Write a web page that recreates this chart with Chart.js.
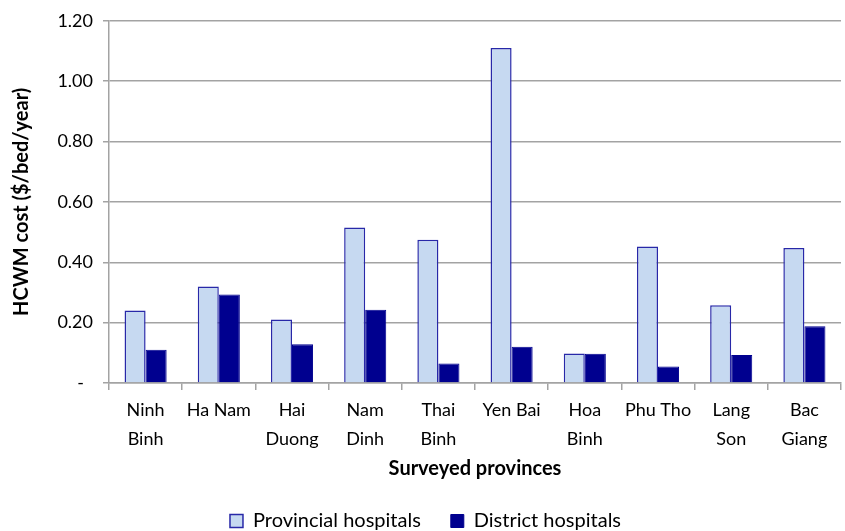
<!DOCTYPE html>
<html>
<head>
<meta charset="utf-8">
<script src="https://cdn.jsdelivr.net/npm/chart.js@4/dist/chart.umd.min.js"></script>
<style>
  html, body { margin: 0; padding: 0; background: #ffffff; }
  #wrap { width: 845px; height: 531px; }
</style>
</head>
<body>
<div id="wrap"><canvas id="chart" width="845" height="531"></canvas></div>
<script>
// Surveyed provinces (two-line labels as drawn under the axis)
const provinces = [
  ["Ninh", "Binh"], "Ha Nam", ["Hai", "Duong"], ["Nam", "Dinh"], ["Thai", "Binh"],
  "Yen Bai", ["Hoa", "Binh"], "Phu Tho", ["Lang", "Son"], ["Bac", "Giang"]
];

// HCWM cost ($/bed/year)
const provincialHospitals = [0.24, 0.32, 0.21, 0.515, 0.475, 1.11, 0.098, 0.452, 0.258, 0.447];
const districtHospitals   = [0.11, 0.293, 0.128, 0.243, 0.065, 0.12, 0.097, 0.055, 0.093, 0.188];

// Y axis tick values
const yTicks = [0, 0.2, 0.4, 0.6, 0.8, 1.0, 1.2];

const FONT = "Lato, 'Open Sans', 'Liberation Sans', sans-serif";
const gridGray = "#a3a3a3";

new Chart(document.getElementById("chart"), {
  type: "bar",
  data: {
    labels: provinces,
    datasets: [
      {
        label: "Provincial hospitals",
        data: provincialHospitals,
        backgroundColor: "#c6d9f1",
        borderColor: "#2828a8",
        borderWidth: 1.5,
        borderSkipped: "bottom"
      },
      {
        label: "District hospitals",
        data: districtHospitals,
        backgroundColor: "#00008f",
        borderColor: "#00008f",
        borderWidth: 1,
        borderSkipped: "bottom"
      }
    ]
  },
  options: {
    responsive: false,
    animation: false,
    devicePixelRatio: 1,
    layout: { padding: { top: 14, right: 4, left: 10, bottom: -10 } },
    datasets: { bar: { categoryPercentage: 0.575, barPercentage: 1.0 } },
    plugins: {
      tooltip: { enabled: false },
      legend: {
        position: "bottom",
        labels: {
          color: "#000000",
          font: { family: FONT, size: 20 },
          boxWidth: 13,
          boxHeight: 13,
          padding: 30,
          useBorderRadius: false
        }
      }
    },
    scales: {
      x: {
        grid: {
          display: true,
          drawOnChartArea: false,
          drawTicks: true,
          tickLength: 7,
          color: gridGray,
          lineWidth: 1.5,
          offset: true
        },
        border: { display: true, color: gridGray, width: 1.5 },
        ticks: {
          color: "#000000",
          font: { family: FONT, size: 18, lineHeight: 1.6 },
          maxRotation: 0,
          autoSkip: false,
          padding: 6
        },
        title: {
          display: true,
          text: "Surveyed provinces",
          color: "#000000",
          font: { family: FONT, size: 20, weight: "bold" },
          padding: { top: 2, bottom: 0 }
        },
        afterFit: (scale) => { scale.height = 98; }
      },
      y: {
        min: 0,
        max: 1.2,
        afterBuildTicks: (scale) => { scale.ticks = yTicks.map(v => ({ value: v })); },
        grid: {
          color: gridGray,
          lineWidth: 1.5,
          drawTicks: true,
          tickLength: 6
        },
        border: { display: true, color: gridGray, width: 1.5 },
        ticks: {
          color: "#000000",
          font: { family: FONT, size: 18 },
          padding: 10,
          callback: (v) => v === 0 ? "-\u2002" : v.toFixed(2)
        },
        title: {
          display: true,
          text: "HCWM cost ($/bed/year)",
          color: "#000000",
          font: { family: FONT, size: 20, weight: "bold" },
          padding: { top: 0, bottom: 0 }
        },
        afterFit: (scale) => { scale.width = 99; }
      }
    }
  }
});
</script>
</body>
</html>
